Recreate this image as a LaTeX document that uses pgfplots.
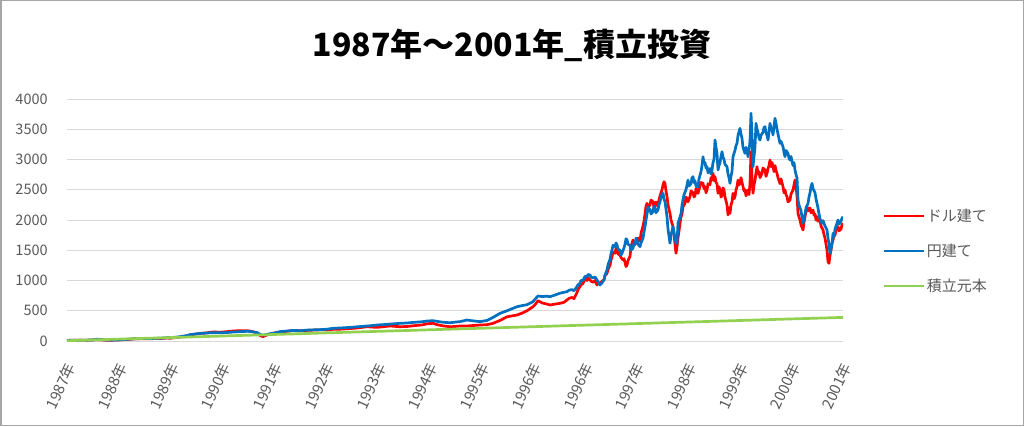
\documentclass[border=0pt]{standalone}
\usepackage{fontspec}
\setmainfont{Noto Sans CJK JP}
\usepackage{pgfplots}
\usepackage{pgfplotstable}
\pgfplotsset{compat=1.18}
\definecolor{cred}{HTML}{FF0000}
\definecolor{cblue}{HTML}{0070C0}
\definecolor{cgreen}{HTML}{92D050}
\definecolor{ctext}{HTML}{595959}
\definecolor{cgrid}{HTML}{D9D9D9}
\definecolor{cframe}{HTML}{A6A6A6}

\pgfplotstableread{
x v
0 10
6 12
13 15
20 14
26 18
34 20
40 12
48 15
58 22
68 35
80 38
93 40
100 50
103 45
113 65
120 85
123 100
133 125
140 135
146 150
153 145
160 155
166 165
173 172
180 170
183 165
190 135
193 90
196 72
200 100
203 115
210 140
213 150
220 160
226 172
233 168
240 175
248 182
256 185
260 182
266 193
273 195
283 205
290 215
300 236
305 230
310 225
318 240
323 248
333 236
340 240
348 255
355 265
360 285
366 292
370 270
376 250
383 236
388 240
393 248
400 248
405 255
413 264
420 270
426 292
433 340
440 400
450 430
455 460
460 500
466 567
468 600
471 666
475 630
480 610
483 595
488 610
493 623
497 640
500 678
502 705
505 720
507 700
510 800
511 850
513 898
514 930
516 950
518 1030
520 1000
521 1050
523 1008
524 990
526 970
528 1000
530 925
531 970
533 950
535 990
537 1010
538 1080
540 1119
541 1180
543 1250
544 1340
545 1394
546 1470
548 1450
549 1530
550 1504
551 1440
553 1420
554 1380
556 1339
557 1360
558 1300
559 1230
560 1256
561 1330
563 1400
564 1560
566 1670
567 1580
568 1600
569 1660
570 1615
571 1700
573 1650
574 1780
576 1900
577 1980
578 2100
579 2230
580 2276
581 2200
583 2250
584 2330
586 2303
587 2200
588 2250
589 2300
591 2220
592 2330
593 2400
594 2450
595 2500
596 2580
597 2633
598 2600
599 2480
600 2386
601 2250
603 2110
604 2000
606 1890
607 1750
608 1600
609 1450
610 1560
611 1700
612 1820
613 1945
614 2050
615 2100
616 2220
618 2275
619 2380
620 2350
621 2300
623 2386
624 2480
626 2450
627 2380
628 2400
629 2520
630 2496
631 2440
633 2560
634 2620
636 2606
637 2520
638 2550
639 2450
640 2496
641 2600
643 2580
644 2700
645 2661
646 2771
647 2650
648 2716
649 2620
650 2600
651 2441
652 2550
653 2496
654 2380
655 2400
656 2530
657 2496
658 2380
660 2250
661 2083
662 2200
663 2110
664 2250
665 2300
666 2441
667 2350
668 2386
669 2500
670 2550
671 2661
672 2580
673 2606
674 2700
676 2551
677 2480
678 2500
679 2400
680 2440
681 2496
682 2420
683 2600
684 3129
685 2700
686 2441
687 2580
688 2650
689 2780
690 2881
691 2760
692 2800
693 2700
695 2771
696 2860
698 2826
699 2720
700 2771
701 2850
702 2900
703 2991
704 2880
705 2950
706 2881
707 2800
708 2900
709 2820
710 2771
711 2700
713 2600
714 2680
716 2551
717 2450
718 2496
719 2420
720 2386
721 2300
723 2330
724 2430
726 2496
727 2580
728 2661
729 2550
730 2400
731 2110
732 2050
733 2000
734 1920
736 1835
737 1960
738 2050
739 2150
740 2220
741 2150
743 2200
744 2120
746 2165
747 2080
748 2100
749 2000
750 2055
751 1980
753 2000
754 1900
756 1835
757 1760
758 1700
759 1600
760 1500
761 1311
762 1284
763 1420
764 1500
765 1620
766 1670
767 1740
768 1750
769 1830
771 1890
772 1820
774 1850
775 1920
776 1945
}\reddata

\pgfplotstableread{
x v
0 10
6 12
13 15
20 14
26 18
30 30
34 22
40 16
48 15
58 25
68 38
80 40
93 45
103 55
113 70
120 90
123 105
133 125
140 132
146 138
153 135
160 140
166 148
173 155
180 160
183 158
190 140
193 110
196 95
200 110
203 120
210 140
213 155
220 165
226 175
233 170
240 180
248 185
256 190
260 195
266 210
273 215
283 225
290 235
300 248
305 255
310 265
318 272
323 280
333 292
340 298
348 310
355 318
360 330
366 336
370 325
376 310
383 302
388 312
393 320
400 347
405 335
413 320
420 340
426 390
433 457
440 500
450 567
455 585
460 600
466 650
468 690
471 744
475 735
480 740
483 732
488 760
493 790
497 805
500 815
502 840
505 850
507 830
510 900
511 930
513 953
514 1000
516 1000
518 1070
520 1060
521 1100
523 1091
524 1060
526 1040
528 1060
530 1008
531 980
533 925
535 960
537 1010
538 1090
540 1174
541 1260
543 1350
544 1440
545 1504
546 1580
548 1560
549 1620
550 1587
551 1520
553 1500
554 1420
555 1450
557 1540
558 1600
559 1690
560 1670
561 1600
563 1580
564 1500
566 1532
567 1620
568 1600
569 1700
570 1670
571 1600
573 1560
574 1620
576 1700
577 1800
578 1890
579 2000
580 2100
581 2220
582 2150
583 2180
584 2100
586 2137
587 2230
588 2200
589 2120
591 2165
592 2250
593 2300
594 2380
596 2441
597 2350
598 2300
599 2180
600 2055
601 1850
603 1615
604 1750
606 1890
607 1800
608 1700
609 1620
610 1615
611 1950
612 2000
614 2100
615 2250
616 2330
617 2420
619 2500
620 2580
621 2660
622 2560
624 2600
625 2700
626 2716
627 2620
628 2650
629 2560
631 2550
632 2680
634 2800
635 2900
636 3046
637 2940
638 2950
639 2860
640 2881
641 2780
643 2850
644 2760
645 2826
646 2950
647 3000
648 3322
649 3200
650 3100
651 2826
652 2900
653 2950
654 3050
655 3129
656 3040
657 3000
658 2920
660 2881
661 2760
662 2700
663 2606
664 2720
665 2800
666 3046
667 3100
668 3150
669 3230
670 3267
671 3400
673 3515
674 3420
675 3350
676 3200
678 3102
679 3200
680 3150
681 3046
682 3150
683 3300
684 3763
685 3400
686 2881
687 3050
688 3200
689 3598
690 3500
691 3450
692 3350
693 3322
694 3400
696 3450
697 3530
698 3542
699 3450
700 3400
701 3322
702 3450
703 3598
704 3520
705 3500
706 3405
707 3550
708 3680
709 3600
710 3500
711 3420
713 3267
714 3300
716 3212
717 3120
718 3046
719 3150
721 3100
722 3020
723 2991
724 3050
726 2900
727 2950
728 2826
729 2750
730 2700
731 2330
732 2250
734 2150
735 2050
736 1945
737 2020
738 2100
739 2200
741 2275
742 2380
743 2450
744 2550
745 2606
746 2520
748 2450
749 2350
750 2275
751 2200
752 2100
753 2020
755 1945
756 1990
758 1900
759 1870
760 1835
761 1700
762 1600
763 1450
764 1520
765 1600
766 1780
767 1720
768 1850
769 1900
771 2000
772 1930
774 1980
775 2030
776 2055
}\bluedata

\pgfplotstableread{
x v
0 5
55.43 33
110.86 60
166.29 88
221.71 115
277.14 143
332.57 170
388 198
443.43 225
498.86 253
554.29 280
609.71 308
665.14 335
720.57 363
776 390
}\greendata

\begin{document}
\begin{tikzpicture}
\path[use as bounding box] (0pt,0pt) rectangle (1024pt,426pt);
\draw[cframe, line width=1.5pt] (0.75pt,0.75pt) rectangle (1023.25pt,425.25pt);
\node[font=\fontsize{32}{38}\selectfont\bfseries, text=black] at (512pt,381pt) {1987年～2001年\_積立投資};
\begin{axis}[
  at={(67pt,85pt)}, anchor=south west,
  scale only axis, width=776pt, height=242pt,
  xmin=0, xmax=776, ymin=0, ymax=4000,
  axis x line=bottom, axis y line=left,
  x axis line style={draw=cgrid, line width=1pt, -},
  y axis line style={draw=none},
  tick style={draw=none},
  ymajorgrids, grid style={draw=cgrid, line width=1pt},
  ytick={0,500,...,4000},
  xtick={0,51.73,103.47,155.2,206.93,258.67,310.4,362.13,413.87,465.6,517.33,569.07,620.8,672.53,724.27,776},
  xticklabels={1987年,1988年,1989年,1990年,1991年,1992年,1993年,1994年,1995年,1996年,1996年,1997年,1998年,1999年,2000年,2001年},
  /pgf/number format/assume math mode=true,
  /pgf/number format/1000 sep={},
  yticklabel style={font=\fontsize{14.5}{16}\selectfont, text=ctext, anchor=east, inner sep=0pt, xshift=-17pt},
  xticklabel style={font=\fontsize{15}{17}\selectfont, text=ctext, xshift=4pt, yshift=-21pt, rotate=65, anchor=east, inner sep=0pt},
  legend style={at={(1.0503,0.372)}, anchor=west, draw=none, fill=none, inner sep=0pt,
    font=\fontsize{15}{18}\selectfont, text=ctext, row sep=17pt},
  legend cell align=left,
  legend image code/.code={\draw[#1] (0pt,0pt) -- (40pt,0pt);},
]
\addplot[cred, line width=2.7pt, line join=round] table[x=x, y=v] {\reddata};
\addlegendentry{ドル建て}
\addplot[cblue, line width=2.7pt, line join=round] table[x=x, y=v] {\bluedata};
\addlegendentry{円建て}
\addplot[cgreen, line width=2.7pt, line join=round] table[x=x, y=v] {\greendata};
\addlegendentry{積立元本}
\end{axis}
\end{tikzpicture}
\end{document}
